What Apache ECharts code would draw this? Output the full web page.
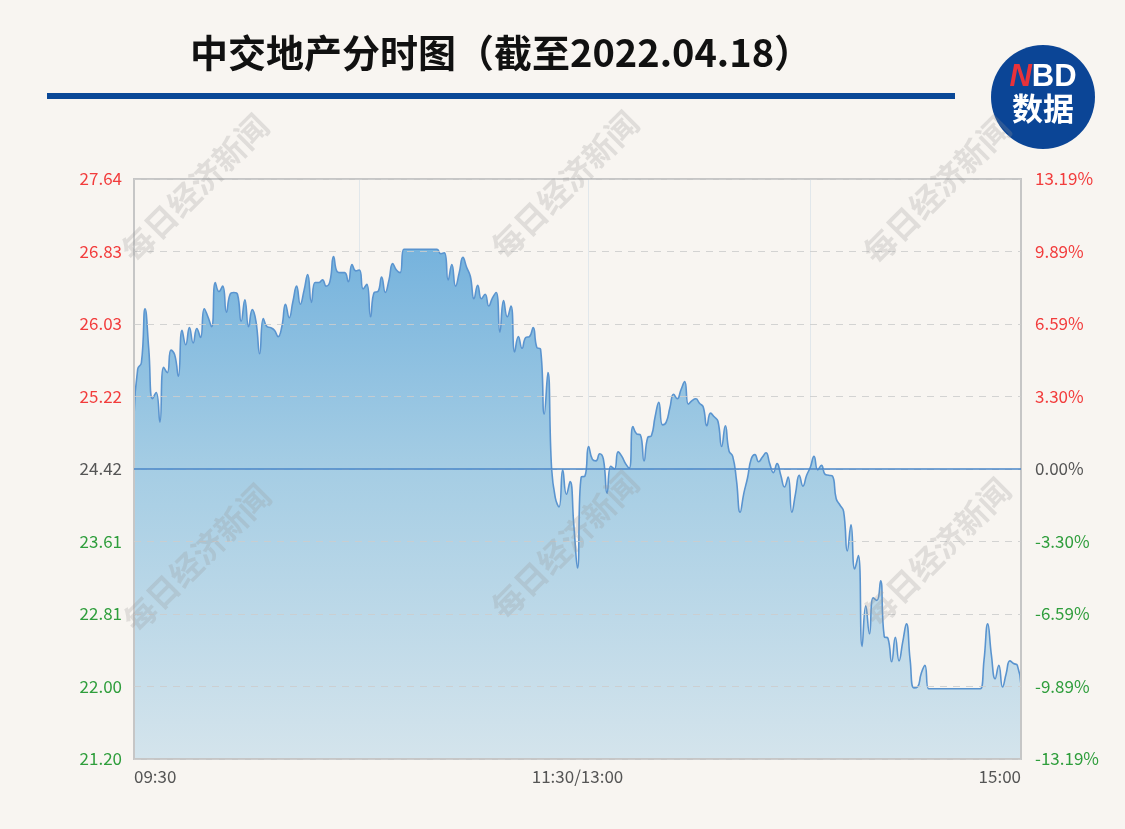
<!DOCTYPE html>
<html>
<head>
<meta charset="utf-8">
<title>中交地产分时图</title>
<script src="https://cdn.jsdelivr.net/npm/echarts@6/dist/echarts.min.js"></script>
<style>
  html, body { margin: 0; padding: 0; background: #f8f5f1; }
  #chart { width: 1125px; height: 829px; }
</style>
</head>
<body>
<div id="chart"></div>
<script>
  // 昨收价
  const preClose = 24.42

  // 每分钟价格 09:30-11:30, 13:01-15:00
  const prices = [
    25.01, 25.53, 25.60, 26.20, 25.75, 25.20, 25.27, 24.94, 25.55, 25.49,
    25.74, 25.69, 25.45, 25.96, 25.80, 25.99, 25.82, 25.98, 25.88, 26.20,
    26.11, 26.00, 26.49, 26.39, 26.45, 26.16, 26.36, 26.38, 26.36, 26.06,
    26.30, 26.00, 26.19, 26.06, 25.70, 26.09, 26.00, 25.99, 25.96, 25.89,
    26.00, 26.25, 26.10, 26.28, 26.45, 26.25, 26.40, 26.58, 26.27, 26.49,
    26.49, 26.52, 26.45, 26.50, 26.78, 26.61, 26.60, 26.60, 26.50, 26.69,
    26.62, 26.63, 26.42, 26.47, 26.11, 26.38, 26.39, 26.55, 26.38, 26.52,
    26.70, 26.63, 26.60, 26.86, 26.86, 26.86, 26.86, 26.86, 26.86, 26.86,
    26.86, 26.86, 26.86, 26.81, 26.82, 26.52, 26.69, 26.45, 26.60, 26.77,
    26.66, 26.56, 26.31, 26.46, 26.31, 26.36, 26.23, 26.32, 26.38, 25.94,
    26.29, 26.11, 26.23, 25.72, 25.89, 25.76, 25.88, 25.89, 25.99, 25.77,
    25.75, 25.03, 25.49, 24.42, 24.10, 24.00, 24.41, 24.14, 24.28, 23.80,
    23.32, 24.33, 24.34, 24.67, 24.53, 24.51, 24.59, 24.53, 24.15, 24.45,
    24.42, 24.61, 24.56, 24.48, 24.43, 24.89, 24.81, 24.80, 24.51, 24.77,
    24.79, 25.00, 25.16, 24.91, 24.94, 25.10, 25.25, 25.20, 25.30, 25.39,
    25.14, 25.18, 25.20, 25.15, 25.11, 24.90, 25.04, 25.00, 24.95, 24.67,
    24.90, 24.62, 24.56, 24.30, 23.94, 24.15, 24.32, 24.53, 24.58, 24.50,
    24.55, 24.60, 24.48, 24.38, 24.48, 24.35, 24.22, 24.33, 23.94, 24.15,
    24.35, 24.23, 24.35, 24.44, 24.56, 24.41, 24.46, 24.36, 24.35, 24.34,
    24.09, 24.02, 23.95, 23.51, 23.80, 23.31, 23.46, 22.45, 22.90, 22.59,
    22.99, 22.96, 23.18, 22.56, 22.54, 22.28, 22.55, 22.29, 22.50, 22.70,
    22.30, 21.99, 22.00, 22.15, 22.24, 21.98, 21.98, 21.98, 21.98, 21.98,
    21.98, 21.98, 21.98, 21.98, 21.98, 21.98, 21.98, 21.98, 21.98, 21.98,
    22.30, 22.70, 22.35, 22.09, 22.24, 22.00, 22.15, 22.29, 22.26, 22.24,
    22.02
  ]

  // 纵轴刻度文字（自下而上）
  const leftLabels = ['21.20', '22.00', '22.81', '23.61', '24.42', '25.22', '26.03', '26.83', '27.64']
  const rightLabels = ['-13.19%', '-9.89%', '-6.59%', '-3.30%', '0.00%', '3.30%', '6.59%', '9.89%', '13.19%']

  // 横轴：交易分钟
  const times = []
  const pad = n => (n < 10 ? '0' : '') + n
  for (let m = 9 * 60 + 30; m <= 11 * 60 + 30; m++) {
    times.push(pad(Math.floor(m / 60)) + ':' + pad(m % 60))
  }
  for (let m = 13 * 60 + 1; m <= 15 * 60; m++) {
    times.push(pad(Math.floor(m / 60)) + ':' + pad(m % 60))
  }
  const labelIdx = [0, 120, 240]
  const vLineIdx = [61, 123, 183]

  const tickColor = idx => (idx > 4 ? '#f23c3c' : idx < 4 ? '#2f9e3c' : '#555555')

  const marks = [[195, 188], [565, 185], [937, 190], [197, 558], [565, 545], [937, 552]]
  const watermarks = marks.map(([x, y]) => ({
    type: 'text',
    x: x,
    y: y,
    rotation: Math.PI / 4,
    z: 100,
    silent: true,
    style: {
      text: '每日经济新闻',
      font: 'bold 32px "Noto Sans CJK SC"',
      fill: 'rgba(150,150,150,0.25)',
      textAlign: 'center',
      textVerticalAlign: 'middle'
    }
  }))

  const chart = echarts.init(document.getElementById('chart'))
  chart.setOption({
    backgroundColor: '#f8f5f1',
    animation: false,
    textStyle: { fontFamily: '"Noto Sans CJK SC", sans-serif' },
    graphic: [
      {
        type: 'text',
        left: 190,
        top: 34,
        style: {
          text: '中交地产分时图（截至2022.04.18）',
          font: 'bold 38px "Noto Sans CJK SC"',
          fill: '#111111'
        }
      },
      {
        type: 'rect',
        shape: { x: 47, y: 93, width: 908, height: 6 },
        style: { fill: '#0a4897' }
      },
      {
        type: 'circle',
        shape: { cx: 1043, cy: 97, r: 52 },
        style: { fill: '#0b4596' }
      },
      {
        type: 'text',
        x: 1043,
        y: 77,
        style: {
          text: '{n|N}{bd|BD}',
          textAlign: 'center',
          textVerticalAlign: 'middle',
          rich: {
            n: { font: 'italic bold 31px "Liberation Sans"', fill: '#e8323a' },
            bd: { font: 'bold 31px "Liberation Sans"', fill: '#ffffff' }
          }
        }
      },
      {
        type: 'text',
        x: 1043,
        y: 108,
        style: {
          text: '数据',
          font: 'bold 31px "Noto Sans CJK SC"',
          fill: '#ffffff',
          textAlign: 'center',
          textVerticalAlign: 'middle'
        }
      }
    ].concat(watermarks),
    grid: {
      left: 134,
      right: 104,
      top: 179,
      bottom: 70,
      z: 4,
      show: true,
      borderColor: '#c6c6c6',
      borderWidth: 2
    },
    xAxis: {
      type: 'category',
      data: times,
      boundaryGap: false,
      axisLine: { show: false },
      axisTick: { show: false },
      axisLabel: {
        interval: index => labelIdx.includes(index),
        formatter: (value, index) => (index === 120 ? '11:30/13:00' : value),
        color: '#555555',
        fontSize: 17,
        margin: 9,
        alignMinLabel: 'left',
        alignMaxLabel: 'right',
        showMinLabel: true,
        showMaxLabel: true
      },
      splitLine: {
        show: true,
        interval: index => vLineIdx.includes(index),
        lineStyle: { color: 'rgba(215,225,232,0.7)', width: 1 }
      }
    },
    yAxis: [
      {
        type: 'value',
        show: false,
        min: 21.2,
        max: 27.64
      },
      {
        type: 'value',
        position: 'left',
        z: 4,
        min: -4,
        max: 4,
        interval: 1,
        axisLine: { show: false },
        axisTick: { show: false },
        axisLabel: {
          margin: 12,
          fontSize: 17,
          formatter: v => leftLabels[Math.round(v) + 4],
          color: v => tickColor(Math.round(v) + 4)
        },
        splitLine: {
          lineStyle: { color: 'rgba(205,205,205,0.85)', type: [7, 6], width: 1.2 }
        }
      },
      {
        type: 'value',
        position: 'right',
        min: -4,
        max: 4,
        interval: 1,
        axisLine: { show: false },
        axisTick: { show: false },
        axisLabel: {
          margin: 14,
          fontSize: 17,
          formatter: v => rightLabels[Math.round(v) + 4],
          color: v => tickColor(Math.round(v) + 4)
        },
        splitLine: { show: false }
      }
    ],
    series: [
      {
        type: 'line',
        yAxisIndex: 0,
        z: 1,
        data: prices,
        smooth: true,
        symbol: 'none',
        lineStyle: { color: '#5a94cf', width: 1.6 },
        areaStyle: {
          opacity: 1,
          color: new echarts.graphic.LinearGradient(0, 0, 0, 1, [
            { offset: 0, color: '#76b3dd' },
            { offset: 0.43, color: '#a5cde4' },
            { offset: 1, color: '#d4e4ec' }
          ])
        },
        markLine: {
          silent: true,
          symbol: 'none',
          z: 6,
          label: { show: false },
          lineStyle: { color: '#4a86c8', width: 1.5, type: 'solid' },
          data: [{ yAxis: preClose }]
        }
      }
    ]
  })
</script>
</body>
</html>
